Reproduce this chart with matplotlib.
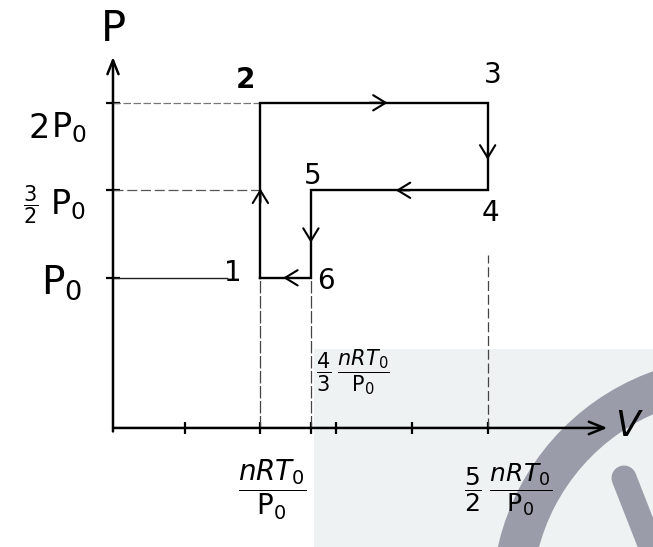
import matplotlib
matplotlib.use('Agg')
import matplotlib.pyplot as plt
from matplotlib.patches import Rectangle, Wedge

# ---------------- data (V in units of nRT0/P0, P in units of P0) ----------------
state_labels = ['1', '2', '3', '4', '5', '6']
V_states = [1.0, 1.0, 2.5, 2.5, 4 / 3, 4 / 3]
P_states = [1.0, 2.0, 2.0, 1.5, 1.5, 1.0]

p_tick_values = [1.0, 1.5, 2.0]
p_tick_coefs = ['', r'$\dfrac{3}{2}$', '2']
p_tick_unit = r'$\mathrm{P}_0$'

v_tick_values = [0.5, 1.0, 4 / 3, 1.5, 2.0, 2.5]
v_label_values = [1.0, 4 / 3, 2.5]
v_label_texts = [r'$\dfrac{nRT_0}{\mathrm{P}_0}$',
                 r'$\dfrac{4}{3}\;\dfrac{nRT_0}{\mathrm{P}_0}$',
                 r'$\dfrac{5}{2}\;\dfrac{nRT_0}{\mathrm{P}_0}$']

# ---------------- figure ----------------
W, H = 653, 547
fig = plt.figure(figsize=(W / 100, H / 100), dpi=100)
fig.patch.set_facecolor('white')

# background watermark layer (pixel coordinates)
bg = fig.add_axes([0, 0, 1, 1])
bg.set_xlim(0, W)
bg.set_ylim(H, 0)
bg.axis('off')
wm = '#9a9ca9'
bg.add_patch(Rectangle((314, 349), W - 314, H - 349, color='#eff2f3', lw=0))
bg.add_patch(Wedge((735, 600), 243, 180, 290, width=40, color=wm, lw=0))
bg.plot([624, 662], [478, 575], color=wm, lw=18, solid_capstyle='round')

# main diagram
ax = fig.add_axes([0, 0, 1, 1])
ax.patch.set_alpha(0)
ax.axis('off')
ax.set_xlim(-0.7188, 3.5914)
ax.set_ylim(-0.5383, 2.5874)

v_axis = 0.027    # V position of the P axis
p_axis = 0.142    # P position of the V axis
v_end, p_end = 3.29, 2.262

# axes with open arrowheads
ax.annotate('', xy=(v_end, p_axis), xytext=(v_axis + 0.01, p_axis),
            arrowprops=dict(arrowstyle='->,head_length=1.1,head_width=0.45',
                            lw=1.8, color='k', shrinkA=0, shrinkB=0))
ax.annotate('', xy=(v_axis, p_end), xytext=(v_axis, p_axis - 0.02),
            arrowprops=dict(arrowstyle='->,head_length=1.0,head_width=0.4',
                            lw=1.8, color='k', shrinkA=0, shrinkB=0))
ax.annotate('P', xy=(v_axis, p_end), xytext=(0, 28), textcoords='offset pixels',
            ha='center', va='center', fontsize=30)
ax.annotate(r'$V$', xy=(v_end, p_axis), xytext=(22, 2), textcoords='offset pixels',
            ha='center', va='center', fontsize=26)

# ticks
ax.plot(v_tick_values, [p_axis] * len(v_tick_values), ls='none', marker='|',
        ms=8, mew=1.6, color='k')
ax.plot([v_axis] * len(p_tick_values), p_tick_values, ls='none', marker='_',
        ms=10, mew=1.6, color='k')

# guide lines
g = dict(color='#444444', lw=0.9)
V1, V2, V3, V4, V5, V6 = V_states
P1, P2, P3, P4, P5, P6 = P_states
ax.plot([v_axis, V2], [P2, P2], color='#777777', lw=0.9, ls=(0, (6, 2)))
ax.plot([v_axis, V1], [P4, P4], color='#555555', lw=0.9, ls=(0, (8, 3)))
ax.plot([v_axis, V1 - 0.22], [P1, P1], color='#222222', lw=1.0)
ax.plot([V1, V1], [p_axis, P1], ls=(0, (10, 2)), **g)
ax.plot([V6, V6], [p_axis, P6], ls=(0, (10, 2)), **g)
ax.plot([V4, V4], [p_axis, P4 - 0.37], ls=(0, (8, 3)), **g)

# cycle path
ax.plot(V_states + [V_states[0]], P_states + [P_states[0]], color='k', lw=1.7,
        solid_joinstyle='miter')

# direction chevrons along each segment
fracs = [0.51, 0.56, 0.65, 0.52, 0.6, 0.55]
n = len(V_states)
for i in range(n):
    va_, pa_ = V_states[i], P_states[i]
    vb_, pb_ = V_states[(i + 1) % n], P_states[(i + 1) % n]
    f = fracs[i]
    tv, tp = va_ + f * (vb_ - va_), pa_ + f * (pb_ - pa_)
    sv, sp = va_ + (f - 0.08) * (vb_ - va_), pa_ + (f - 0.08) * (pb_ - pa_)
    ax.annotate('', xy=(tv, tp), xytext=(sv, sp),
                arrowprops=dict(arrowstyle='->,head_length=0.9,head_width=0.55',
                                lw=1.5, color='k', shrinkA=0, shrinkB=0))

# state labels
label_offsets = [(-28, 5), (-15, 23), (5, 28), (3, -23), (2, 14), (15, -3)]
for lab, v, p, off in zip(state_labels, V_states, P_states, label_offsets):
    ax.annotate(lab, xy=(v, p), xytext=off, textcoords='offset pixels',
                ha='center', va='center', fontsize=20,
                fontweight='bold' if lab == '2' else 'normal')

# P-axis labels: coefficient + unit
unit_offsets = [(-51, -5), (-45, -14), (-44, -25)]
unit_sizes = [28, 24, 24]
coef_offsets = [(0, 0), (-82, -14), (-74, -26)]
coef_sizes = [24, 15, 24]
for val, coef, uo, us, co, cs in zip(p_tick_values, p_tick_coefs, unit_offsets,
                                     unit_sizes, coef_offsets, coef_sizes):
    ax.annotate(p_tick_unit, xy=(v_axis, val), xytext=uo, textcoords='offset pixels',
                ha='center', va='center', fontsize=us)
    if coef:
        ax.annotate(coef, xy=(v_axis, val), xytext=co, textcoords='offset pixels',
                    ha='center', va='center', fontsize=cs)

# V-axis labels
v_label_offsets = [(12, -62), (42, 56), (20, -62)]
v_label_sizes = [20, 15, 18]
for val, txt, off, fs in zip(v_label_values, v_label_texts, v_label_offsets, v_label_sizes):
    ax.annotate(txt, xy=(val, p_axis), xytext=off, textcoords='offset pixels',
                ha='center', va='center', fontsize=fs)

fig.savefig('out.png', dpi=100)
